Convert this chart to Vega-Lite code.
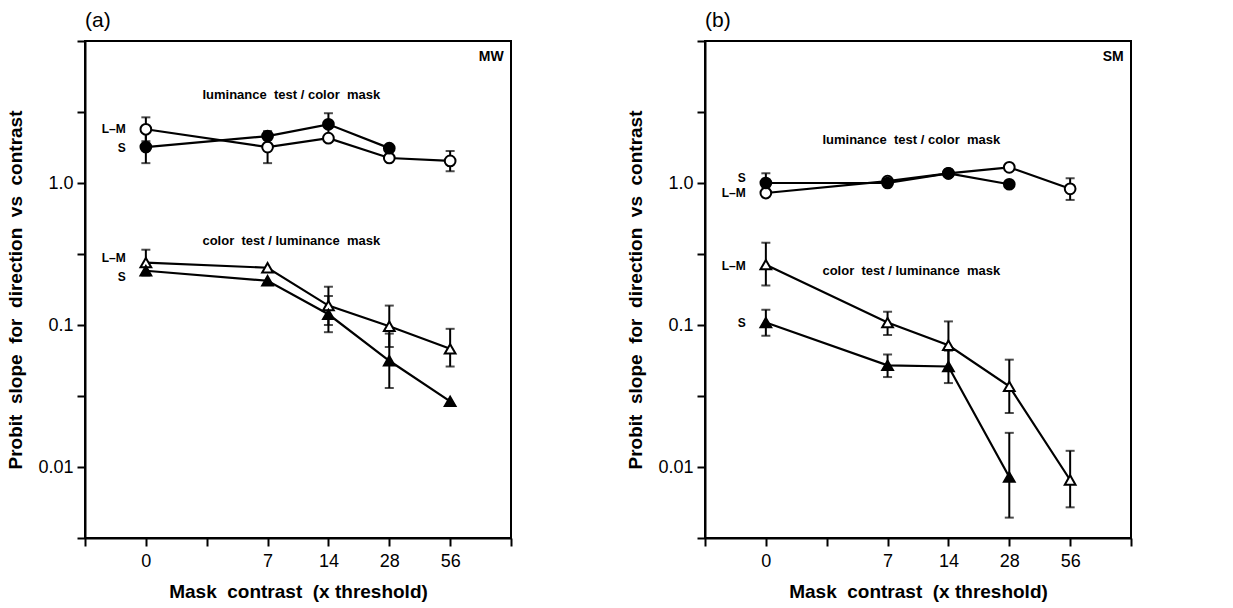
{
  "$schema": "https://vega.github.io/schema/vega-lite/v6.json",
  "background": "white",
  "padding": {"left": 5, "top": 10, "right": 5, "bottom": 5},
  "data": {"values": [
    {"panel": "(a)", "kind": "pt", "test": "lum", "stim": "L-M", "x": 0, "v": 2.39, "lo": 1.97, "hi": 2.9},
    {"panel": "(a)", "kind": "pt", "test": "lum", "stim": "L-M", "x": 2, "v": 1.79, "lo": 1.38, "hi": 2.32},
    {"panel": "(a)", "kind": "pt", "test": "lum", "stim": "L-M", "x": 3, "v": 2.07},
    {"panel": "(a)", "kind": "pt", "test": "lum", "stim": "L-M", "x": 4, "v": 1.5},
    {"panel": "(a)", "kind": "pt", "test": "lum", "stim": "L-M", "x": 5, "v": 1.43, "lo": 1.21, "hi": 1.68},
    {"panel": "(a)", "kind": "pt", "test": "lum", "stim": "S", "x": 0, "v": 1.79, "lo": 1.38, "hi": 2.32},
    {"panel": "(a)", "kind": "pt", "test": "lum", "stim": "S", "x": 2, "v": 2.14},
    {"panel": "(a)", "kind": "pt", "test": "lum", "stim": "S", "x": 3, "v": 2.59, "lo": 2.16, "hi": 3.1},
    {"panel": "(a)", "kind": "pt", "test": "lum", "stim": "S", "x": 4, "v": 1.76},
    {"panel": "(a)", "kind": "pt", "test": "col", "stim": "L-M", "x": 0, "v": 0.275, "lo": 0.223, "hi": 0.339},
    {"panel": "(a)", "kind": "pt", "test": "col", "stim": "L-M", "x": 2, "v": 0.253},
    {"panel": "(a)", "kind": "pt", "test": "col", "stim": "L-M", "x": 3, "v": 0.137, "lo": 0.1, "hi": 0.186},
    {"panel": "(a)", "kind": "pt", "test": "col", "stim": "L-M", "x": 4, "v": 0.098, "lo": 0.07, "hi": 0.137},
    {"panel": "(a)", "kind": "pt", "test": "col", "stim": "L-M", "x": 5, "v": 0.068, "lo": 0.051, "hi": 0.094},
    {"panel": "(a)", "kind": "pt", "test": "col", "stim": "S", "x": 0, "v": 0.241},
    {"panel": "(a)", "kind": "pt", "test": "col", "stim": "S", "x": 2, "v": 0.205},
    {"panel": "(a)", "kind": "pt", "test": "col", "stim": "S", "x": 3, "v": 0.119, "lo": 0.089, "hi": 0.16},
    {"panel": "(a)", "kind": "pt", "test": "col", "stim": "S", "x": 4, "v": 0.056, "lo": 0.036, "hi": 0.087},
    {"panel": "(a)", "kind": "pt", "test": "col", "stim": "S", "x": 5, "v": 0.029},
    {"panel": "(b)", "kind": "pt", "test": "lum", "stim": "L-M", "x": 0, "v": 0.85},
    {"panel": "(b)", "kind": "pt", "test": "lum", "stim": "L-M", "x": 2, "v": 1.03},
    {"panel": "(b)", "kind": "pt", "test": "lum", "stim": "L-M", "x": 3, "v": 1.17},
    {"panel": "(b)", "kind": "pt", "test": "lum", "stim": "L-M", "x": 4, "v": 1.29},
    {"panel": "(b)", "kind": "pt", "test": "lum", "stim": "L-M", "x": 5, "v": 0.91, "lo": 0.76, "hi": 1.08},
    {"panel": "(b)", "kind": "pt", "test": "lum", "stim": "S", "x": 0, "v": 1.0, "lo": 0.86, "hi": 1.17},
    {"panel": "(b)", "kind": "pt", "test": "lum", "stim": "S", "x": 2, "v": 1.0},
    {"panel": "(b)", "kind": "pt", "test": "lum", "stim": "S", "x": 3, "v": 1.17},
    {"panel": "(b)", "kind": "pt", "test": "lum", "stim": "S", "x": 4, "v": 0.98},
    {"panel": "(b)", "kind": "pt", "test": "col", "stim": "L-M", "x": 0, "v": 0.266, "lo": 0.19, "hi": 0.38},
    {"panel": "(b)", "kind": "pt", "test": "col", "stim": "L-M", "x": 2, "v": 0.104, "lo": 0.085, "hi": 0.124},
    {"panel": "(b)", "kind": "pt", "test": "col", "stim": "L-M", "x": 3, "v": 0.072, "lo": 0.049, "hi": 0.106},
    {"panel": "(b)", "kind": "pt", "test": "col", "stim": "L-M", "x": 4, "v": 0.037, "lo": 0.024, "hi": 0.057},
    {"panel": "(b)", "kind": "pt", "test": "col", "stim": "L-M", "x": 5, "v": 0.0081, "lo": 0.0052, "hi": 0.013},
    {"panel": "(b)", "kind": "pt", "test": "col", "stim": "S", "x": 0, "v": 0.104, "lo": 0.084, "hi": 0.128},
    {"panel": "(b)", "kind": "pt", "test": "col", "stim": "S", "x": 2, "v": 0.052, "lo": 0.043, "hi": 0.062},
    {"panel": "(b)", "kind": "pt", "test": "col", "stim": "S", "x": 3, "v": 0.051, "lo": 0.039, "hi": 0.066},
    {"panel": "(b)", "kind": "pt", "test": "col", "stim": "S", "x": 4, "v": 0.0085, "lo": 0.0044, "hi": 0.0174},
    {"panel": "(a)", "kind": "title", "x": 2.39, "v": 4.15, "label": "luminance\u00a0 test / color\u00a0 mask"},
    {"panel": "(a)", "kind": "title", "x": 2.39, "v": 0.39, "label": "color\u00a0 test / luminance\u00a0 mask"},
    {"panel": "(b)", "kind": "title", "x": 2.39, "v": 2.0, "label": "luminance\u00a0 test / color\u00a0 mask"},
    {"panel": "(b)", "kind": "title", "x": 2.39, "v": 0.24, "label": "color\u00a0 test / luminance\u00a0 mask"},
    {"panel": "(a)", "kind": "series", "x": -0.33, "v": 2.39, "label": "L\u2013M"},
    {"panel": "(a)", "kind": "series", "x": -0.33, "v": 1.76, "label": "S"},
    {"panel": "(a)", "kind": "series", "x": -0.33, "v": 0.298, "label": "L\u2013M"},
    {"panel": "(a)", "kind": "series", "x": -0.33, "v": 0.219, "label": "S"},
    {"panel": "(b)", "kind": "series", "x": -0.33, "v": 1.08, "label": "S"},
    {"panel": "(b)", "kind": "series", "x": -0.33, "v": 0.85, "label": "L\u2013M"},
    {"panel": "(b)", "kind": "series", "x": -0.33, "v": 0.26, "label": "L\u2013M"},
    {"panel": "(b)", "kind": "series", "x": -0.33, "v": 0.104, "label": "S"},
    {"panel": "(a)", "kind": "subject", "x": 5.88, "v": 7.66, "label": "MW"},
    {"panel": "(b)", "kind": "subject", "x": 5.88, "v": 7.66, "label": "SM"}
  ]},
  "facet": {
    "column": {
      "field": "panel", "type": "nominal", "title": null,
      "header": {"labelAnchor": "start", "labelOrient": "top", "labelFontSize": 21, "labelFont": "Liberation Sans", "labelColor": "black", "labelPadding": 8}
    }
  },
  "spacing": 112,
  "resolve": {"axis": {"y": "independent", "x": "independent"}},
  "spec": {
    "width": 426,
    "height": 497,
    "encoding": {
      "x": {"field": "x", "type": "quantitative",
        "scale": {"domain": [-1, 6], "nice": false, "zero": false},
        "axis": {"values": [-1, 0, 1, 2, 3, 4, 5, 6],
          "labelExpr": "datum.value == 0 ? '0' : datum.value == 2 ? '7' : datum.value == 3 ? '14' : datum.value == 4 ? '28' : datum.value == 5 ? '56' : ''",
          "title": "Mask\u00a0 contrast\u00a0 (x threshold)"}},
      "y": {"field": "v", "type": "quantitative",
        "scale": {"type": "log", "domain": [0.0031623, 10], "nice": false},
        "axis": {"values": [0.0031623, 0.01, 0.031623, 0.1, 0.31623, 1, 3.1623, 10],
          "labelExpr": "datum.value == 1 ? '1.0' : datum.value == 0.1 ? '0.1' : datum.value == 0.01 ? '0.01' : ''",
          "title": "Probit\u00a0 slope\u00a0 for\u00a0 direction\u00a0 vs\u00a0 contrast"}}
    },
    "layer": [
      {"transform": [{"filter": "datum.kind == 'pt' && isValid(datum.lo)"}],
       "mark": {"type": "rule", "color": "black", "strokeWidth": 2},
       "encoding": {"y": {"field": "lo", "type": "quantitative"}, "y2": {"field": "hi"}}},
      {"transform": [{"filter": "datum.kind == 'pt' && isValid(datum.lo)"}],
       "mark": {"type": "tick", "orient": "horizontal", "size": 9, "thickness": 2, "color": "black"},
       "encoding": {"y": {"field": "lo", "type": "quantitative"}}},
      {"transform": [{"filter": "datum.kind == 'pt' && isValid(datum.hi)"}],
       "mark": {"type": "tick", "orient": "horizontal", "size": 9, "thickness": 2, "color": "black"},
       "encoding": {"y": {"field": "hi", "type": "quantitative"}}},
      {"transform": [{"filter": "datum.kind == 'pt'"}],
       "mark": {"type": "line", "color": "black", "strokeWidth": 2.2},
       "encoding": {"detail": [{"field": "test"}, {"field": "stim"}]}},
      {"transform": [{"filter": "datum.kind == 'pt'"}],
       "mark": {"type": "point", "filled": true, "stroke": "black", "strokeWidth": 2, "size": 115, "opacity": 1},
       "encoding": {
         "shape": {"field": "test", "type": "nominal", "scale": {"domain": ["lum", "col"], "range": ["circle", "triangle-up"]}, "legend": null},
         "fill": {"field": "stim", "type": "nominal", "scale": {"domain": ["L-M", "S"], "range": ["white", "black"]}, "legend": null}
       }},
      {"transform": [{"filter": "datum.kind == 'title'"}],
       "mark": {"type": "text", "font": "Liberation Sans", "fontWeight": "bold", "fontSize": 13, "align": "center", "baseline": "middle", "color": "black"},
       "encoding": {"text": {"field": "label"}}},
      {"transform": [{"filter": "datum.kind == 'series'"}],
       "mark": {"type": "text", "font": "Liberation Sans", "fontWeight": "bold", "fontSize": 12, "align": "right", "baseline": "middle", "color": "black"},
       "encoding": {"text": {"field": "label"}}},
      {"transform": [{"filter": "datum.kind == 'subject'"}],
       "mark": {"type": "text", "font": "Liberation Sans", "fontWeight": "bold", "fontSize": 14, "align": "right", "baseline": "middle", "color": "black"},
       "encoding": {"text": {"field": "label"}}}
    ]
  },
  "config": {
    "view": {"stroke": "black", "strokeWidth": 2},
    "axis": {
      "grid": false, "domainColor": "black", "domainWidth": 2, "tickColor": "black", "tickWidth": 2, "tickSize": 8,
      "labelColor": "black", "labelFont": "Liberation Sans", "labelFontSize": 18,
      "titleColor": "black", "titleFont": "Liberation Sans", "titleFontSize": 19, "titleFontWeight": "bold"
    },
    "axisX": {"labelPadding": 6, "titlePadding": 12},
    "axisY": {"labelPadding": 4, "titlePadding": 12}
  }
}
